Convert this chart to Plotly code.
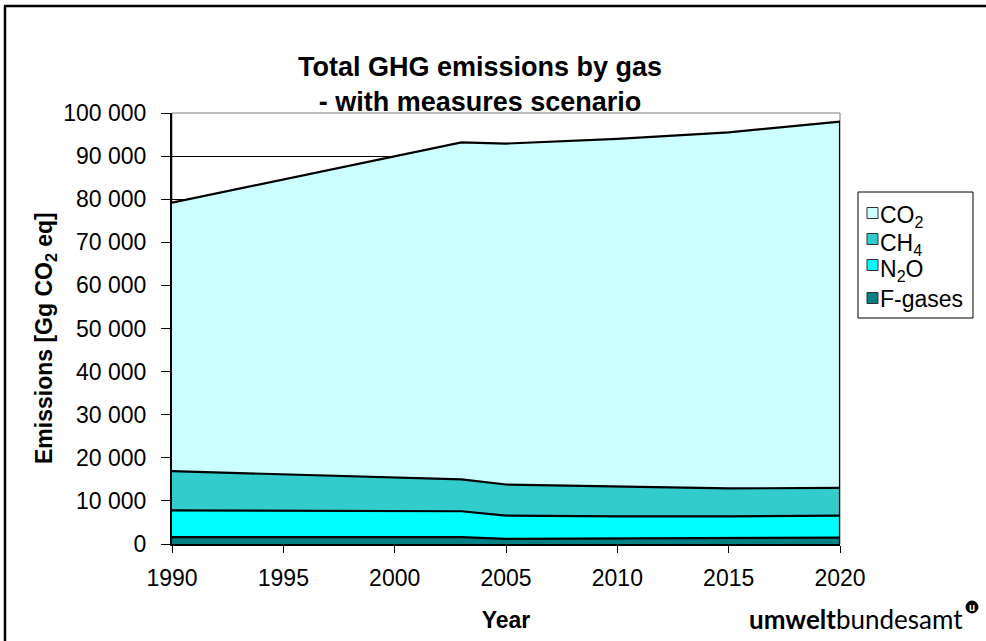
import plotly.graph_objects as go

# Emission projections, "with measures" scenario, Gg CO2 equivalent
years = [1990, 2003, 2005, 2010, 2015, 2020]
f_gases = [1600, 1600, 1200, 1300, 1400, 1500]
n2o = [6200, 6000, 5400, 5100, 5000, 5100]
ch4 = [9100, 7400, 7200, 6900, 6500, 6400]
co2 = [62300, 78200, 79100, 80700, 82600, 85000]

gas_names = ["F-gases", "N<sub>2</sub>O", "CH<sub>4</sub>", "CO<sub>2</sub>"]
gas_values = [f_gases, n2o, ch4, co2]
gas_colors = ["#008080", "#00FFFF", "#33CCCC", "#CCFFFF"]

x_ticks = [1990, 1995, 2000, 2005, 2010, 2015, 2020]
y_ticks = list(range(0, 100001, 10000))

W, H = 986, 641
L, R, T, B = 172, 840, 113, 544  # plot area in pixels


def px(x):
    return (x - L) / (R - L)


def py(y):
    return (B - y) / (B - T)


fig = go.Figure()

for name, vals, col in zip(gas_names, gas_values, gas_colors):
    fig.add_trace(go.Scatter(
        x=years, y=vals, stackgroup="gas", mode="lines",
        line=dict(color="black", width=2.2), fillcolor=col,
        name=name, showlegend=False, hoverinfo="x+y+name",
    ))

# closing edge of the stacked area at the last year
totals = [sum(v) for v in zip(*gas_values)]
fig.add_trace(go.Scatter(
    x=[years[-1], years[-1]], y=[0, totals[-1]], mode="lines",
    line=dict(color="black", width=2.2), showlegend=False, hoverinfo="skip",
))

font = "Arial, Liberation Sans, sans-serif"

fig.update_layout(
    width=W, height=H,
    margin=dict(l=L, r=W - R, t=T, b=H - B),
    paper_bgcolor="white", plot_bgcolor="white",
    separators=". ",
    showlegend=False,
    font=dict(family=font, size=23, color="black"),
    title=dict(
        text="<b>Total GHG emissions by gas<br>- with measures scenario</b>",
        x=480 / W, xanchor="center", xref="container",
        y=1 - 76 / H, yanchor="top", yref="container",
        font=dict(size=27, family=font, color="black"),
    ),
    xaxis=dict(
        range=[1990, 2020], tickvals=x_ticks, ticks="outside", ticklen=7,
        tickcolor="black", showline=True, linecolor="black", linewidth=2,
        showgrid=False, zeroline=False, tickfont=dict(size=23),
        ticklabelstandoff=5,
        title=dict(text="<b>Year</b>", font=dict(size=23), standoff=22),
    ),
    yaxis=dict(
        range=[0, 100000], tickvals=y_ticks, tickformat=",d", ticks="outside",
        ticklen=9, tickcolor="black", showline=True, linecolor="black",
        linewidth=2, showgrid=True, gridcolor="black", gridwidth=1,
        zeroline=False, tickfont=dict(size=23), ticklabelstandoff=10,
    ),
)

# y-axis title
fig.add_annotation(
    xref="paper", yref="paper", x=px(45), y=py(338), textangle=-90,
    xanchor="center", yanchor="middle", showarrow=False, borderpad=0,
    text="<b>Emissions [Gg CO<sub>2</sub> eq]</b>",
    font=dict(family=font, size=23, color="black"),
)

# plot area frame (top and right)
fig.add_shape(type="rect", xref="paper", yref="paper", x0=0, x1=1, y0=0, y1=1,
              line=dict(color="#808080", width=1), layer="below")

# legend box with square swatches
fig.add_shape(type="rect", xref="paper", yref="paper",
              x0=px(858), x1=px(973), y0=py(318), y1=py(192),
              line=dict(color="black", width=1), fillcolor="white")
legend_rows = [  # (label, colour, swatch centre y, text centre y)
    (gas_names[3], gas_colors[3], 213, 216),
    (gas_names[2], gas_colors[2], 239, 244),
    (gas_names[1], gas_colors[1], 265, 270),
    (gas_names[0], gas_colors[0], 298, 299),
]
for label, col, sy, ty in legend_rows:
    fig.add_shape(type="rect", xref="paper", yref="paper",
                  x0=px(867), x1=px(878), y0=py(sy + 5.5), y1=py(sy - 5.5),
                  line=dict(color="#333333", width=1), fillcolor=col)
    fig.add_annotation(xref="paper", yref="paper", x=px(879), y=py(ty),
                       xanchor="left", yanchor="middle", showarrow=False,
                       text=label, font=dict(family=font, size=23),
                       borderpad=0)

# outer chart border (left and top edges)
fig.add_shape(type="line", xref="paper", yref="paper",
              x0=px(5), x1=px(5), y0=py(6), y1=py(H),
              line=dict(color="black", width=2.5))
fig.add_shape(type="line", xref="paper", yref="paper",
              x0=px(4), x1=px(W), y0=py(6), y1=py(6),
              line=dict(color="black", width=2.5))

# agency wordmark
fig.add_annotation(
    xref="paper", yref="paper", x=px(964), y=py(619),
    xanchor="right", yanchor="middle", showarrow=False,
    text="<b>umwelt</b>bundesamt", borderpad=0,
    font=dict(family="Lato, Open Sans, sans-serif", size=26, color="black"),
)
fig.add_shape(type="circle", xref="paper", yref="paper",
              x0=px(966), x1=px(978), y0=py(613), y1=py(601),
              fillcolor="black", line=dict(color="black", width=1))
fig.add_annotation(
    xref="paper", yref="paper", x=px(972), y=py(607), showarrow=False,
    text="<b>u</b>", font=dict(family=font, size=10, color="white"),
    xanchor="center", yanchor="middle", borderpad=0,
)

fig.write_html("out.html")
